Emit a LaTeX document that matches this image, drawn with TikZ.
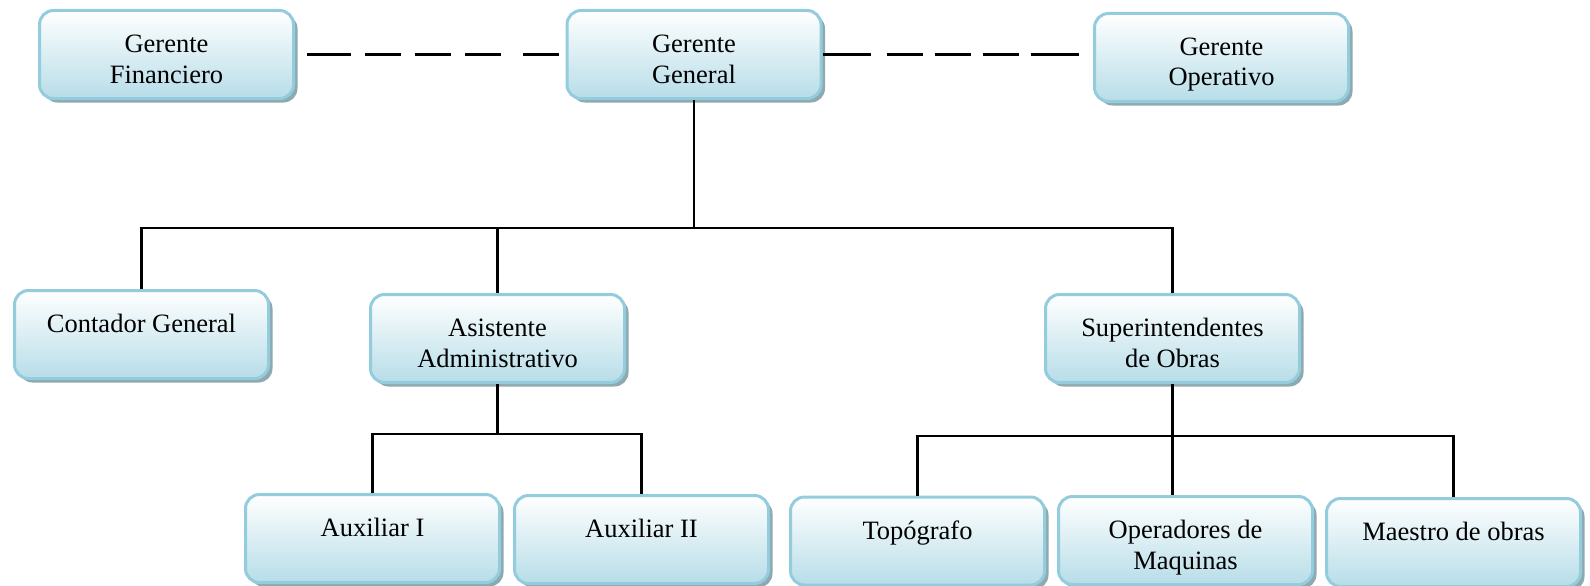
\documentclass[tikz,border=0pt]{standalone}
\usepackage{fontspec}
\setmainfont{Liberation Serif}
\usetikzlibrary{shadows}
\definecolor{bord}{HTML}{93CDDD}
\definecolor{fillb}{HTML}{B7DDE8}
\definecolor{fillm}{HTML}{E2F1F5}
\definecolor{shad}{HTML}{8FA9B1}
\newcommand{\bxt}[1]{\parbox[t]{240pt}{\centering #1}}
\begin{document}
\begin{tikzpicture}[x=1pt,y=-1pt,
  orgbox/.style={rectangle, rounded corners=14pt, draw=bord, line width=3pt,
    top color=white, middle color=fillm, bottom color=fillb,
    minimum width=254pt, minimum height=88pt, inner sep=0pt,
    text height=42pt, text depth=46pt,
    drop shadow={shadow xshift=4pt, shadow yshift=-4pt, fill=shad, opacity=1},
    font=\fontsize{26.5pt}{30.5pt}\selectfont},
  conn/.style={draw=black, line width=2.4pt},
  dconn/.style={draw=black, line width=2.4pt}]
\useasboundingbox (0,0) rectangle (1590,586);
\node[orgbox] (gf) at (166.5,54.5) {\bxt{Gerente\\Financiero}};
\node[orgbox] (gg) at (694,54.5) {\bxt{Gerente\\General}};
\node[orgbox] (go) at (1221.5,57.5) {\bxt{Gerente\\Operativo}};
\node[orgbox] (cg) at (141.5,334.5) {\bxt{Contador General}};
\node[orgbox] (aa) at (497.5,338.5) {\bxt{Asistente\\Administrativo}};
\node[orgbox] (so) at (1172.5,338.5) {\bxt{Superintendentes\\de Obras}};
\node[orgbox] (a1) at (372.5,538.5) {\bxt{Auxiliar I}};
\node[orgbox] (a2) at (641.5,539.5) {\bxt{Auxiliar II}};
\node[orgbox] (to) at (917.5,541) {\bxt{Topógrafo}};
\node[orgbox] (om) at (1185.5,540.5) {\bxt{Operadores de\\Maquinas}};
\node[orgbox] (mo) at (1453.5,542.5) {\bxt{Maestro de obras}};
% dashed staff links
\draw[dconn, shorten <=12pt, shorten >=6pt,
  dash pattern=on 44pt off 14pt on 36pt off 14pt on 36pt off 14pt on 36pt off 22pt on 36pt off 200pt]
  (gf.east) -- (gg.west);
\draw[dconn, shorten >=14pt,
  dash pattern=on 48pt off 16pt on 36pt off 12pt on 36pt off 12pt on 36pt off 12pt on 48pt off 200pt]
  (gg.east) -- (gg.east -| go.west);
% tree
\coordinate (bus1) at (0,228);
\coordinate (bus2) at (0,434);
\coordinate (bus3) at (0,436);
\draw[conn] (gg.south) -- (gg.south |- bus1);
\draw[conn] (cg.north) -- (cg.north |- bus1) -- (so.north |- bus1) -- (so.north);
\draw[conn] (aa.north) -- (aa.north |- bus1);
\draw[conn] (aa.south) -- (aa.south |- bus2);
\draw[conn] (a1.north) -- (a1.north |- bus2) -- (a2.north |- bus2) -- (a2.north);
\draw[conn] (so.south) -- (so.south |- om.north);
\draw[conn] (to.north) -- (to.north |- bus3) -- (mo.north |- bus3) -- (mo.north);
\end{tikzpicture}
\end{document}
